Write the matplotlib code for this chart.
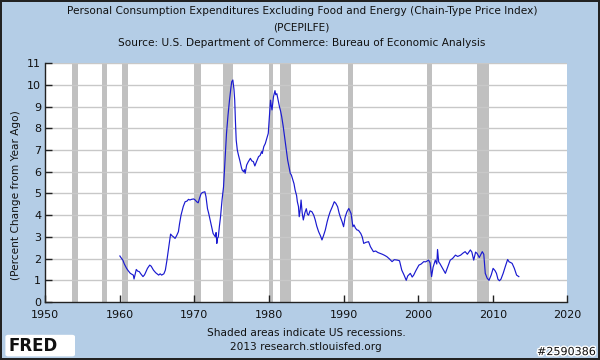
import matplotlib
matplotlib.use("Agg")
import matplotlib.pyplot as plt
import matplotlib.patheffects as pe
from matplotlib.patches import FancyBboxPatch

# ---- data ----
years = [1960.0, 1960.2, 1960.4, 1960.6, 1960.9, 1961.1, 1961.4, 1961.6, 1961.8, 1961.9,
         1962.0, 1962.2, 1962.4, 1962.6, 1962.8, 1963.1, 1963.3, 1963.4, 1963.7, 1964.0,
         1964.2, 1964.5, 1964.8, 1965.2, 1965.4, 1965.6, 1965.9, 1966.1, 1966.3, 1966.5,
         1966.7, 1966.8, 1967.0, 1967.2, 1967.4, 1967.6, 1967.85, 1968.0, 1968.2, 1968.5,
         1968.75, 1969.0, 1969.2, 1969.4, 1969.6, 1969.9, 1970.1, 1970.3, 1970.5, 1970.7,
         1970.9, 1971.1, 1971.4, 1971.55, 1971.75, 1971.9, 1972.1, 1972.3, 1972.5, 1972.7,
         1972.8, 1972.9, 1973.0, 1973.1, 1973.2, 1973.35, 1973.5, 1973.7, 1973.9, 1974.1,
         1974.3, 1974.5, 1974.7, 1974.9, 1975.0, 1975.15, 1975.3, 1975.4, 1975.5, 1975.6,
         1975.75, 1975.9, 1976.1, 1976.3, 1976.4, 1976.6, 1976.7, 1976.8, 1977.0, 1977.2,
         1977.5, 1977.7, 1977.9, 1978.1, 1978.3, 1978.6, 1978.8, 1979.0, 1979.1, 1979.3,
         1979.5, 1979.7, 1979.9, 1980.05, 1980.2, 1980.3, 1980.4, 1980.6, 1980.8, 1980.9,
         1981.05, 1981.2, 1981.4, 1981.55, 1981.7, 1981.9, 1982.05, 1982.2, 1982.35, 1982.5,
         1982.7, 1982.85, 1983.0, 1983.2, 1983.35, 1983.5, 1983.7, 1983.8, 1983.95, 1984.05,
         1984.2, 1984.3, 1984.45, 1984.6, 1984.8, 1985.0, 1985.15, 1985.3, 1985.5, 1985.75,
         1986.0, 1986.2, 1986.4, 1986.65, 1986.9, 1987.1, 1987.3, 1987.55, 1987.8, 1988.0,
         1988.2, 1988.5, 1988.75, 1988.95, 1989.2, 1989.4, 1989.55, 1989.8, 1990.0, 1990.2,
         1990.45, 1990.7, 1990.85, 1991.0, 1991.25, 1991.4, 1991.6, 1991.8, 1992.0, 1992.3,
         1992.5, 1992.7, 1993.0, 1993.35, 1993.6, 1994.0, 1994.3, 1994.6, 1994.9, 1995.2,
         1995.5, 1995.8, 1996.1, 1996.5, 1996.8, 1997.2, 1997.5, 1997.8, 1998.1, 1998.4,
         1998.6, 1998.95, 1999.2, 1999.4, 1999.7, 2000.1, 2000.4, 2000.75, 2001.0, 2001.4,
         2001.6, 2001.8, 2002.0, 2002.3, 2002.5, 2002.6, 2002.75, 2002.9, 2003.2, 2003.45,
         2003.65, 2003.9, 2004.3, 2004.6, 2005.0, 2005.3, 2005.7, 2006.0, 2006.3, 2006.6,
         2007.0, 2007.2, 2007.45, 2007.7, 2007.9, 2008.2, 2008.6, 2008.8, 2009.0, 2009.25,
         2009.5, 2009.8, 2010.05, 2010.3, 2010.5, 2010.7, 2010.9, 2011.1, 2011.4, 2011.7,
         2012.0, 2012.2, 2012.4, 2012.6, 2012.9, 2013.2, 2013.5]
pce_core = [2.12, 2.02, 1.93, 1.75, 1.55, 1.45, 1.32, 1.28, 1.24, 1.06,
            1.20, 1.50, 1.42, 1.40, 1.30, 1.17, 1.25, 1.32, 1.55, 1.70,
            1.65, 1.47, 1.35, 1.24, 1.30, 1.24, 1.30, 1.47, 1.90, 2.40,
            2.90, 3.13, 3.05, 3.00, 2.93, 3.05, 3.24, 3.60, 4.00, 4.40,
            4.62, 4.65, 4.73, 4.70, 4.73, 4.75, 4.70, 4.62, 4.57, 4.80,
            5.00, 5.05, 5.08, 4.85, 4.30, 4.10, 3.78, 3.45, 3.16, 3.05,
            3.00, 3.20, 2.70, 2.95, 3.00, 3.50, 3.93, 4.70, 5.30, 6.50,
            7.77, 8.60, 9.30, 9.90, 10.15, 10.23, 9.80, 9.30, 8.30, 7.46,
            7.00, 6.77, 6.50, 6.20, 6.08, 6.00, 6.10, 5.93, 6.31, 6.45,
            6.62, 6.50, 6.47, 6.27, 6.45, 6.70, 6.75, 6.93, 6.85, 7.16,
            7.30, 7.54, 7.77, 8.50, 9.30, 9.05, 8.85, 9.46, 9.74, 9.55,
            9.60, 9.35, 9.00, 8.80, 8.54, 8.10, 7.70, 7.30, 6.90, 6.54,
            6.20, 5.93, 5.85, 5.62, 5.45, 5.16, 4.90, 4.62, 4.40, 3.93,
            4.30, 4.70, 4.10, 3.78, 4.10, 4.30, 4.05, 4.00, 4.20, 4.16,
            4.00, 3.78, 3.50, 3.24, 3.05, 2.86, 3.05, 3.32, 3.70, 3.95,
            4.16, 4.40, 4.62, 4.55, 4.39, 4.10, 3.93, 3.70, 3.47, 3.90,
            4.16, 4.31, 4.20, 4.08, 3.47, 3.55, 3.40, 3.32, 3.30, 3.16,
            3.00, 2.70, 2.75, 2.78, 2.55, 2.32, 2.35, 2.28, 2.24, 2.20,
            2.15, 2.09, 2.00, 1.86, 1.95, 1.93, 1.90, 1.47, 1.25, 1.00,
            1.20, 1.32, 1.15, 1.24, 1.45, 1.70, 1.75, 1.86, 1.85, 1.93,
            1.80, 1.17, 1.60, 1.93, 1.75, 2.42, 1.85, 1.78, 1.60, 1.45,
            1.32, 1.55, 1.93, 2.00, 2.16, 2.10, 2.16, 2.25, 2.32, 2.20,
            2.40, 2.30, 1.93, 2.30, 2.24, 2.05, 2.32, 2.20, 1.32, 1.10,
            1.00, 1.25, 1.55, 1.45, 1.32, 1.05, 0.98, 1.05, 1.32, 1.65,
            1.96, 1.85, 1.82, 1.78, 1.55, 1.24, 1.17]

recession_starts = [1953.55, 1957.6, 1960.3, 1969.95, 1973.85, 1980.0, 1981.5, 1990.55, 2001.2, 2007.9]
recession_ends = [1954.4, 1958.3, 1961.15, 1970.9, 1975.2, 1980.55, 1982.9, 1991.2, 2001.9, 2009.5]

x_ticks = [1950, 1960, 1970, 1980, 1990, 2000, 2010, 2020]
y_ticks = list(range(0, 12))

title_lines = ["Personal Consumption Expenditures Excluding Food and Energy (Chain-Type Price Index)",
               "(PCEPILFE)",
               "Source: U.S. Department of Commerce: Bureau of Economic Analysis"]
y_label = "(Percent Change from Year Ago)"
footer_lines = ["Shaded areas indicate US recessions.", "2013 research.stlouisfed.org"]

# ---- figure ----
bg = "#b4cde6"
fig = plt.figure(figsize=(6.0, 3.6), dpi=100, facecolor=bg)
fig.patch.set_edgecolor("#222222")
fig.patch.set_linewidth(1.5)

ax = fig.add_axes([0.0755, 0.1611, 0.87, 0.6631])
ax.set_facecolor("white")

for s, e in zip(recession_starts, recession_ends):
    ax.axvspan(s, e, color="#c0c0c0", lw=0, zorder=1)

for yv in y_ticks[1:]:
    ax.axhline(yv, color="#c8c8c8", lw=1.0, zorder=1.5)

ax.plot(years, pce_core, color="#1a1ad0", lw=0.85, zorder=3)

ax.set_xlim(1950, 2020)
ax.set_ylim(0, 11)
ax.set_xticks(x_ticks)
ax.set_yticks(y_ticks)
ax.tick_params(direction="in", length=5, width=1, color="#222222",
               labelsize=8, labelcolor="#111111")
ax.tick_params(axis="x", pad=6)
ax.tick_params(axis="y", pad=3)
for side in ("top", "right"):
    ax.spines[side].set_visible(False)
for side in ("left", "bottom"):
    ax.spines[side].set_color("#222222")
    ax.spines[side].set_linewidth(1.0)

fs = 7.6
for t, yy in zip(title_lines, [0.969, 0.925, 0.881]):
    fig.text(0.503, yy, t, ha="center", va="center", fontsize=fs, color="#111111")

fig.text(0.026, 0.458, y_label, rotation=90, ha="center", va="center",
         fontsize=fs, color="#111111")

for t, yy in zip(footer_lines, [0.075, 0.036]):
    fig.text(0.51, yy, t, ha="center", va="center", fontsize=fs, color="#111111")

# FRED logo
logo = FancyBboxPatch((0.009, 0.010), 0.116, 0.060, boxstyle="round,pad=0.0,rounding_size=0.005",
                      transform=fig.transFigure, facecolor="white", edgecolor="none")
fig.patches.append(logo)
fig.text(0.014, 0.040, "FRED", fontsize=12, fontweight="bold", color="#111111",
         ha="left", va="center")

t = fig.text(0.993, 0.022, "#2590386", fontsize=8, color="#111111", ha="right", va="center")
t.set_path_effects([pe.withStroke(linewidth=2, foreground="white")])

fig.savefig("out.png", dpi=100, facecolor=bg, edgecolor="#222222")
